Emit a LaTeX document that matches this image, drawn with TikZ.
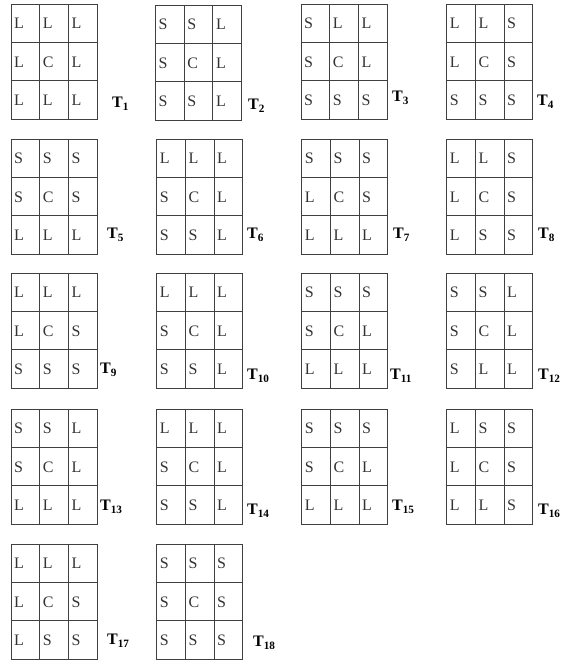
\documentclass[tikz,border=0pt]{standalone}
\usepackage{fontspec}
\setmainfont{Liberation Serif}
\tikzset{
  cellline/.style={draw=black!75, line width=0.7pt},
  letter/.style={anchor=west, inner sep=0pt, font=\fontsize{16}{16}\selectfont, text=black!80},
  tlabel/.style={anchor=west, inner sep=0pt, font=\fontsize{16}{16}\selectfont\bfseries},
}
\newcommand\tabgrid[6]{%
  \draw[cellline] (#2,#3) rectangle ++(86,115);
  \draw[cellline] (#2+28.7,#3) -- ++(0,115) (#2+57.3,#3) -- ++(0,115)
                  (#2,#3+38.3) -- ++(86,0) (#2,#3+76.7) -- ++(86,0);
  \foreach \lt [count=\i from 0] in {#4} {
    \pgfmathtruncatemacro\rr{div(\i,3)}
    \pgfmathtruncatemacro\cc{mod(\i,3)}
    \node[letter] (#1-\rr\cc) at (#2+\cc*28.67+3, #3+\rr*38.33+19.5) {\lt};
  }
  \node[tlabel] (#1) at #6 {#5};
}
\begin{document}
\begin{tikzpicture}[x=1pt,y=-1pt]
\fill[white] (0,0) rectangle (577,660);
\useasboundingbox (0,0) rectangle (577,660);
\tabgrid{t1}{11}{4}{L,L,L,L,C,L,L,L,L}{T\textsubscript{1}}{(112,104)}
\tabgrid{t2}{155.5}{5}{S,S,L,S,C,L,S,S,L}{T\textsubscript{2}}{(248,106)}
\tabgrid{t3}{301}{4}{S,L,L,S,C,L,S,S,S}{T\textsubscript{3}}{(392,98)}
\tabgrid{t4}{446.7}{4}{L,L,S,L,C,S,S,S,S}{T\textsubscript{4}}{(537,102)}
\tabgrid{t5}{11}{139}{S,S,S,S,C,S,L,L,L}{T\textsubscript{5}}{(107,235)}
\tabgrid{t6}{156.7}{139}{L,L,L,S,C,L,S,S,L}{T\textsubscript{6}}{(247,235)}
\tabgrid{t7}{301.7}{139}{S,S,S,L,C,S,L,L,L}{T\textsubscript{7}}{(393,235)}
\tabgrid{t8}{446.7}{139}{L,L,S,L,C,S,L,S,S}{T\textsubscript{8}}{(538,235)}
\tabgrid{t9}{11}{273}{L,L,L,L,C,S,S,S,S}{T\textsubscript{9}}{(100,370)}
\tabgrid{t10}{156.7}{273}{L,L,L,S,C,L,S,S,L}{T\textsubscript{10}}{(247,376)}
\tabgrid{t11}{301.7}{273}{S,S,S,S,C,L,L,L,L}{T\textsubscript{11}}{(390,376)}
\tabgrid{t12}{446.7}{273}{S,S,L,S,C,L,S,L,L}{T\textsubscript{12}}{(538,376)}
\tabgrid{t13}{11}{409}{S,S,L,S,C,L,L,L,L}{T\textsubscript{13}}{(100,507)}
\tabgrid{t14}{156.7}{409}{L,L,L,S,C,L,S,S,L}{T\textsubscript{14}}{(247,511)}
\tabgrid{t15}{301.7}{409}{S,S,S,S,C,L,L,L,L}{T\textsubscript{15}}{(392,507)}
\tabgrid{t16}{446.7}{409}{L,S,S,L,C,S,L,L,S}{T\textsubscript{16}}{(538,511)}
\tabgrid{t17}{11}{544}{L,L,L,L,C,S,L,S,S}{T\textsubscript{17}}{(107,641)}
\tabgrid{t18}{156.7}{544}{S,S,S,S,C,S,S,S,S}{T\textsubscript{18}}{(253,643)}
\end{tikzpicture}
\end{document}
